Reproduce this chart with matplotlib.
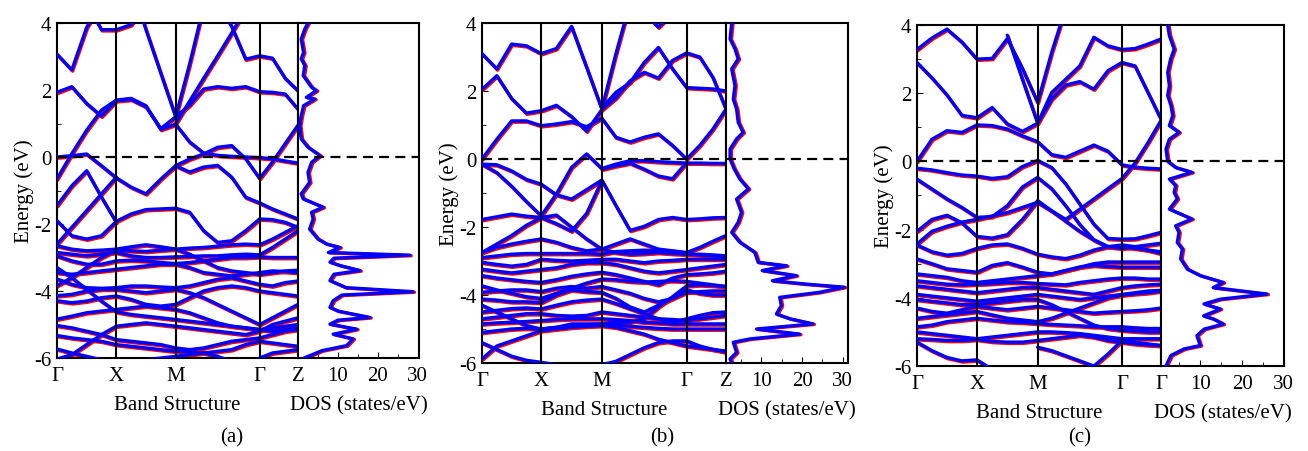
import matplotlib.pyplot as plt
import matplotlib.transforms as mtransforms
import numpy as np

nan = np.nan

# band energies (eV) read at 18 points along the k-path:
# 4 steps G-X, 4 steps X-M, 6 steps M-G, 3 steps G-Z
bands_a = [
    [3.07, 2.6, 3.87, 4.6, nan, nan, nan, nan, nan, nan, nan, nan, nan, nan, nan, nan, nan, nan],
    [nan, nan, 4.6, 3.8, 3.8, 3.95, 4.6, nan, nan, nan, nan, nan, nan, nan, nan, nan, nan, nan],
    [-0.65, 0.1, 0.8, 1.4, 1.7, 1.75, 1.53, 0.82, 0.98, 0.45, 0.12, 0.05, 0.02, 0.0, -0.02, -0.05, -0.12, -0.18],
    [1.93, 2.1, 1.6, 1.22, 1.68, 1.72, 1.5, 0.85, 1.2, 1.55, 2.03, 2.1, 2.05, 2.1, 1.95, 1.93, 1.88, 1.43],
    [nan, nan, nan, nan, nan, 5.2, 3.8, 2.5, 1.2, 2.78, 4.5, nan, nan, nan, nan, nan, nan, nan],
    [nan, nan, nan, nan, nan, nan, nan, nan, 1.0, 1.67, 2.35, 3.02, 3.7, 4.4, nan, nan, nan, nan],
    [nan, nan, nan, nan, nan, nan, nan, nan, nan, nan, nan, 4.6, 3.9, 2.92, 3.02, 2.95, 2.35, 1.98],
    [0.0, 0.04, 0.09, -0.26, -0.62, -0.9, -1.1, -0.66, -0.26, -0.06, 0.09, 0.29, 0.34, -0.05, -0.64, -0.15, 0.4, 0.95],
    [nan, nan, nan, nan, nan, nan, nan, nan, -0.26, -0.45, -0.3, -0.25, -0.6, -1.2, -1.37, -1.55, -1.7, -1.85],
    [-1.45, -0.86, -0.41, -1.2, -1.95, nan, nan, nan, nan, nan, nan, nan, nan, nan, nan, nan, nan, nan],
    [-1.9, -2.35, -2.45, -2.35, -1.92, -1.7, -1.57, -1.55, -1.53, -1.65, -2.2, -2.55, -2.5, -2.2, -1.85, -1.87, -1.95, -2.1],
    [-2.6, -2.1, -1.6, -1.1, -0.6, nan, nan, nan, nan, nan, nan, nan, nan, nan, nan, nan, nan, nan],
    [-2.65, -2.75, -2.8, -2.78, -2.75, -2.68, -2.62, -2.68, -2.75, -2.72, -2.7, -2.66, -2.62, -2.6, -2.62, -2.45, -2.25, -2.05],
    [-2.85, -2.9, -2.95, -2.9, -2.85, -2.95, -3.0, -3.0, -2.98, -2.97, -2.95, -2.95, -2.92, -2.9, -2.92, -2.7, -2.45, -2.2],
    [-2.95, -3.1, -3.2, -3.2, -3.1, -3.08, -3.1, -3.15, -3.18, -3.15, -3.1, -3.05, -3.0, -3.0, -2.98, -3.0, -3.0, -3.0],
    [-3.3, -3.6, -3.95, -4.3, -4.62, -4.7, -4.75, -4.8, -4.85, -4.9, -4.95, -5.0, -5.05, -5.1, -5.15, -5.2, -5.15, -5.1],
    [-3.84, -3.6, -3.3, -3.0, -2.78, -2.8, -2.82, -2.78, -2.75, -2.9, -3.1, -3.3, -3.4, -3.45, -3.5, -3.45, -3.4, -3.38],
    [-3.45, -3.5, -3.45, -3.4, -3.35, -3.3, -3.25, -3.2, -3.2, -3.3, -3.45, -3.5, -3.55, -3.5, -3.45, -3.4, -3.42, -3.45],
    [-3.64, -3.8, -3.9, -3.92, -3.9, -3.85, -3.85, -3.88, -3.9, -3.85, -3.75, -3.65, -3.6, -3.7, -3.8, -3.85, -3.75, -3.7],
    [-4.14, -4.1, -4.0, -3.95, -3.95, -4.0, -4.05, -4.0, -3.95, -4.05, -4.2, -4.4, -4.6, -4.8, -5.0, -4.8, -4.6, -4.4],
    [-4.29, -4.35, -4.3, -4.2, -4.15, -4.25, -4.4, -4.45, -4.4, -4.2, -4.0, -3.9, -3.85, -3.9, -4.0, -4.05, -4.1, -4.15],
    [-4.84, -4.75, -4.65, -4.6, -4.55, -4.5, -4.45, -4.5, -4.55, -4.65, -4.8, -4.95, -5.05, -5.1, -5.15, -5.1, -5.05, -5.0],
    [-5.03, -5.1, -5.2, -5.3, -5.45, -5.5, -5.55, -5.6, -5.7, -5.75, -5.7, -5.6, -5.5, -5.45, -5.4, -5.3, -5.2, -5.15],
    [-5.33, -5.4, -5.45, -5.5, -5.6, -5.65, -5.7, -5.75, -5.8, -5.82, -5.85, -5.8, -5.75, -5.6, -5.5, -5.55, -5.6, -5.65],
    [-5.73, -5.85, -5.95, -6.05, -6.1, -6.1, -6.05, -6.0, -5.95, -5.9, -5.85, -5.95, -6.1, -6.2, -6.0, -5.85, -5.8, -5.75],
    [-6.03, -5.9, -5.6, -5.3, -5.05, -5.0, -4.95, -5.0, -5.05, -5.1, -5.15, -5.2, -5.25, -5.3, -5.2, -5.0, -4.9, -4.8],
]

bands_b = [
    [3.1, 2.65, 3.38, 3.33, 3.1, 3.25, 3.9, 2.69, 1.47, 3.1, 4.6, nan, nan, nan, nan, nan, nan, nan],
    [2.05, 2.45, 1.78, 1.35, 1.42, 1.58, 1.25, 0.82, 1.45, 1.8, 2.3, 2.55, 2.38, 2.9, 3.12, 3.0, 2.4, 1.47],
    [0.0, 0.58, 1.12, 1.12, 0.98, 1.03, 1.1, 0.95, 1.2, 0.64, 0.5, 0.64, 0.74, 0.4, 0.0, 0.4, 0.88, 1.47],
    [nan, nan, nan, nan, nan, nan, nan, nan, 1.5, 1.96, 2.25, 2.84, 3.28, 2.65, 2.1, 2.08, 2.06, 2.0],
    [nan, nan, nan, nan, nan, nan, nan, nan, nan, nan, nan, 4.3, 3.88, 4.3, nan, nan, nan, nan],
    [-0.15, -0.17, -0.35, -0.6, -0.74, -1.05, -1.18, -0.9, -0.62, -1.37, -2.1, -1.98, -1.78, -1.72, -1.78, -1.76, -1.73, -1.72],
    [-0.15, -0.4, -0.8, -1.25, -1.67, -1.03, -0.25, 0.15, -0.28, -0.15, -0.05, -0.05, -0.08, -0.1, -0.12, -0.12, -0.13, -0.13],
    [nan, nan, nan, nan, nan, nan, nan, nan, -0.3, -0.2, -0.12, -0.3, -0.5, -0.58, -0.1, nan, nan, nan],
    [-1.78, -1.7, -1.62, -1.68, -1.72, -1.65, -2.0, -2.35, -2.65, -2.75, -2.8, -2.78, -2.75, -2.78, -2.8, -2.8, -2.82, -2.85],
    [-2.75, -2.5, -2.25, -1.95, -1.72, -1.9, -2.12, -1.6, -0.64, nan, nan, nan, nan, nan, nan, nan, nan, nan],
    [-2.75, -2.6, -2.5, -2.42, -2.35, -2.45, -2.6, -2.7, -2.65, -2.5, -2.35, -2.5, -2.65, -2.7, -2.75, -2.6, -2.42, -2.25],
    [-2.9, -2.85, -2.8, -2.78, -2.78, -2.78, -2.78, -2.78, -2.8, -2.72, -2.7, -2.68, -2.7, -2.72, -2.8, -2.82, -2.85, -2.88],
    [-3.04, -3.1, -3.15, -3.1, -2.95, -2.98, -3.0, -2.98, -2.95, -2.95, -3.0, -3.05, -3.0, -2.98, -2.95, -2.95, -2.95, -2.95],
    [-3.24, -3.3, -3.35, -3.3, -3.25, -3.2, -3.1, -3.05, -3.05, -3.1, -3.2, -3.3, -3.35, -3.3, -3.25, -3.2, -3.15, -3.1],
    [-3.43, -3.5, -3.55, -3.6, -3.63, -3.55, -3.45, -3.38, -3.33, -3.4, -3.5, -3.6, -3.7, -3.5, -3.4, -3.38, -3.35, -3.3],
    [-3.73, -3.85, -3.95, -4.05, -4.1, -3.95, -3.8, -3.65, -3.53, -3.55, -3.6, -3.62, -3.6, -3.58, -3.6, -3.65, -3.7, -3.75],
    [-3.92, -3.88, -3.85, -3.85, -3.9, -3.8, -3.75, -3.8, -3.75, -3.85, -3.95, -4.1, -4.2, -4.1, -3.92, -3.9, -3.88, -3.88],
    [-4.12, -4.15, -4.2, -4.2, -4.22, -4.0, -3.85, -3.9, -3.92, -4.1, -4.35, -4.5, -4.3, -4.1, -3.85, -3.95, -4.0, -4.0],
    [-4.5, -4.45, -4.4, -4.38, -4.41, -4.3, -4.2, -4.15, -4.12, -4.25, -4.4, -4.55, -4.7, -4.8, -4.7, -4.6, -4.52, -4.5],
    [-4.7, -4.65, -4.6, -4.55, -4.55, -4.6, -4.62, -4.6, -4.5, -4.55, -4.6, -4.65, -4.7, -4.72, -4.75, -4.7, -4.65, -4.6],
    [-4.85, -4.82, -4.8, -4.78, -4.75, -4.72, -4.7, -4.7, -4.7, -4.72, -4.75, -4.8, -4.82, -4.85, -4.85, -4.85, -4.85, -4.85],
    [-5.1, -5.05, -5.0, -4.98, -5.0, -4.95, -4.9, -4.88, -4.85, -4.88, -4.92, -4.95, -4.98, -5.0, -5.0, -5.0, -5.0, -5.0],
    [-5.4, -5.6, -5.8, -5.92, -5.98, -6.05, -6.1, -6.1, -6.05, -5.95, -5.75, -5.55, -5.4, -5.35, -5.35, -5.5, -5.6, -5.68],
    [-5.88, -5.5, -5.35, -5.2, -5.05, -5.0, -4.95, -4.92, -4.9, -4.95, -5.05, -5.15, -5.3, -5.4, -5.5, -5.55, -5.6, -5.65],
    [-4.3, -4.5, -4.7, -4.9, -5.0, -4.95, -4.85, -4.85, -4.85, -4.8, -4.8, -4.7, -4.35, -4.05, -3.73, -3.7, -3.72, -3.75],
]

bands_c = [
    [3.28, 3.62, 3.88, 3.5, 3.0, 3.02, 3.6, 2.72, 1.73, 3.2, 4.5, nan, nan, nan, nan, nan, nan, nan],
    [nan, nan, nan, nan, nan, nan, 3.7, 2.4, 1.12, 1.83, 2.24, 2.34, 2.12, 2.66, 2.9, 2.8, 2.02, 1.24],
    [2.9, 2.45, 1.95, 1.35, 1.28, 1.58, 1.1, 0.88, 1.12, 2.02, 2.41, 2.8, 3.64, 3.39, 3.28, 3.31, 3.44, 3.59],
    [0.0, 0.65, 0.9, 0.85, 1.07, 1.05, 0.95, 0.75, 0.58, 0.2, 0.12, 0.3, 0.48, 0.3, -0.1, -0.17, -0.2, -0.22],
    [-2.42, -2.05, -1.9, -1.78, -1.7, -1.6, -1.5, -1.35, -1.2, -1.45, -1.7, -1.4, -1.1, -0.8, -0.5, -0.05, 0.55, 1.2],
    [-0.2, -0.25, -0.33, -0.4, -0.43, -0.5, -0.45, -0.15, 0.03, -0.18, -0.66, -1.25, -1.84, -2.26, -2.28, -2.27, -2.18, -2.08],
    [-0.52, -0.81, -1.1, -1.35, -1.64, -1.62, -1.3, -0.75, -0.47, -0.8, -1.3, -1.85, -2.3, -2.5, -2.55, -2.5, -2.45, -2.4],
    [-2.05, -1.7, -1.58, -1.8, -2.2, -2.25, -2.15, -1.7, -1.15, -1.45, -1.75, -2.05, -2.3, -2.5, -2.5, -2.55, -2.6, -2.65],
    [-2.45, -2.65, -2.75, -2.7, -2.55, -2.45, -2.42, -2.55, -2.72, -2.8, -2.85, -2.75, -2.6, -2.5, -2.45, -2.5, -2.6, -2.7],
    [-2.86, -3.0, -3.15, -3.2, -3.25, -3.05, -2.97, -3.1, -3.25, -3.3, -3.2, -3.1, -3.0, -2.95, -2.95, -2.95, -2.95, -2.95],
    [-3.3, -3.35, -3.4, -3.5, -3.55, -3.5, -3.45, -3.4, -3.35, -3.3, -3.2, -3.1, -3.05, -3.08, -3.1, -3.1, -3.1, -3.1],
    [-3.5, -3.55, -3.6, -3.62, -3.6, -3.58, -3.55, -3.55, -3.58, -3.6, -3.62, -3.55, -3.5, -3.45, -3.42, -3.42, -3.45, -3.45],
    [-3.65, -3.7, -3.75, -3.8, -3.85, -3.8, -3.75, -3.7, -3.7, -3.75, -3.8, -3.85, -3.9, -3.8, -3.7, -3.65, -3.62, -3.6],
    [-3.9, -3.95, -4.0, -4.05, -4.1, -4.05, -4.0, -3.95, -3.9, -3.95, -4.0, -4.05, -4.0, -3.95, -3.9, -3.85, -3.8, -3.78],
    [-4.05, -4.1, -4.15, -4.2, -4.2, -4.15, -4.1, -4.05, -4.05, -4.2, -4.4, -4.6, -4.8, -4.9, -4.95, -4.98, -5.0, -5.0],
    [-4.3, -4.4, -4.45, -4.35, -4.25, -4.3, -4.35, -4.3, -4.25, -4.3, -4.35, -4.4, -4.45, -4.42, -4.4, -4.38, -4.35, -4.3],
    [-4.6, -4.55, -4.5, -4.45, -4.4, -4.5, -4.6, -4.65, -4.7, -4.6, -4.45, -4.3, -4.15, -4.0, -3.92, -3.88, -3.85, -3.8],
    [-4.85, -4.8, -4.7, -4.65, -4.6, -4.65, -4.7, -4.72, -4.75, -4.78, -4.8, -4.82, -4.85, -4.85, -4.85, -4.88, -4.9, -4.9],
    [-5.0, -5.05, -5.1, -5.15, -5.2, -5.15, -5.1, -5.05, -5.0, -5.0, -5.02, -5.05, -5.1, -5.15, -5.2, -5.2, -5.2, -5.2],
    [-5.2, -5.22, -5.25, -5.25, -5.22, -5.28, -5.3, -5.3, -5.25, -5.2, -5.15, -5.1, -5.15, -5.25, -5.3, -5.35, -5.38, -5.4],
    [-5.3, -5.55, -5.75, -5.85, -5.82, -6.1, nan, nan, nan, nan, nan, nan, nan, nan, nan, nan, nan, nan],
    [nan, nan, nan, nan, nan, nan, nan, nan, -5.45, -5.55, -5.7, -5.85, -6.0, -5.65, -5.25, -5.3, -5.35, -5.4],
]

# density of states: energy (eV) and states/eV
dos_e_a = [4.0, 3.82, 3.52, 3.12, 2.93, 2.73, 2.43, 2.08, 1.98, 1.78, 1.73, 1.53, 1.23, 0.94,
           0.54, 0.29, 0.04, -0.16, -0.46, -0.76, -1.1, -1.25, -1.5, -1.65, -1.85, -2.15,
           -2.45, -2.6, -2.7, -2.85, -2.93, -3.02, -3.14, -3.24, -3.39, -3.5, -3.69, -3.9,
           -4.02, -4.12, -4.29, -4.49, -4.6, -4.79, -4.87, -4.99, -5.14, -5.29, -5.43, -5.63,
           -5.78, -5.93, -6.0]
dos_a = [2.5, 1.7, 0.8, 1.4, 0.8, 1.7, 1.3, 3.4, 4.6, 2.1, 4.2, 1.4, 0.8, 0.4,
         0.8, 2.5, 5.5, 3.4, 2.5, 2.9, 0.8, 1.3, 6.3, 3.4, 3.8, 2.9,
         5.0, 7.2, 10.5, 7.6, 28.0, 9.0, 8.0, 10.5, 15.5, 9.0, 8.0, 12.0,
         28.8, 11.0, 8.8, 8.0, 10.0, 18.0, 10.0, 8.0, 14.7, 8.8, 13.8, 12.2,
         6.0, 3.0, 1.5]

dos_e_b = [4.0, 3.53, 3.24, 2.94, 2.65, 2.16, 1.76, 1.47, 1.08, 0.78, 0.59, 0.29, 0.0, -0.29,
           -0.59, -0.88, -1.18, -1.57, -1.86, -2.16, -2.45, -2.75, -3.04, -3.14, -3.28, -3.43,
           -3.58, -3.68, -3.77, -3.92, -4.07, -4.31, -4.56, -4.7, -4.85, -5.0, -5.15, -5.29,
           -5.39, -5.69, -5.88, -6.0]
dos_b = [2.7, 2.3, 3.5, 4.3, 2.7, 3.5, 3.1, 3.9, 4.3, 5.5, 3.9, 2.3, 2.3, 3.3,
         4.7, 6.8, 3.9, 5.1, 4.3, 2.7, 4.7, 8.4, 9.2, 16.2, 10.2, 18.6,
         12.7, 21.0, 30.4, 24.3, 14.5, 14.9, 13.7, 17.0, 22.7, 8.8, 19.4, 7.3,
         3.1, 3.9, 2.3, 2.7]

dos_e_c = [4.0, 3.69, 3.29, 3.0, 2.61, 2.22, 1.93, 1.63, 1.34, 1.05, 0.85, 0.65, 0.36, 0.0,
           -0.18, -0.32, -0.52, -0.71, -0.91, -1.1, -1.4, -1.69, -1.89, -2.08, -2.38, -2.57,
           -2.86, -3.16, -3.35, -3.55, -3.7, -3.89, -4.04, -4.18, -4.33, -4.53, -4.62, -4.77,
           -4.92, -5.11, -5.4, -5.5, -5.69, -5.89, -6.0]
dos_c = [2.2, 2.6, 3.75, 2.9, 2.2, 2.6, 2.2, 3.0, 3.4, 2.6, 4.9, 2.6, 1.8, 2.2,
         4.1, 8.0, 2.6, 4.1, 3.75, 4.5, 2.6, 8.0, 4.1, 4.9, 4.5, 5.7,
         5.3, 6.9, 10.0, 15.5, 13.1, 26.0, 14.8, 10.9, 14.8, 10.8, 13.1, 15.5,
         10.9, 9.2, 10.0, 6.1, 3.0, 2.2, 1.8]

labels_ab = ['Γ', 'X', 'M', 'Γ', 'Z']
labels_c = ['Γ', 'X', 'M', 'Γ', 'Γ']

plt.rcParams['font.family'] = ['Liberation Serif', 'DejaVu Serif']
plt.rcParams['axes.unicode_minus'] = False
plt.rcParams['lines.solid_joinstyle'] = 'round'
plt.rcParams['lines.solid_capstyle'] = 'round'

FS = 15


def kpoints(nodes):
    steps = [4, 4, 6, 3]
    k = [nodes[0]]
    for i, n in enumerate(steps):
        k += list(np.linspace(nodes[i], nodes[i + 1], n + 1)[1:])
    return np.array(k)


def draw_panel(fig, band_rect, dos_rect, nodes, labels, bands, dos_e, dos, dos_lim, tag, tag_x):
    ax = fig.add_axes(band_rect)
    ax2 = fig.add_axes(dos_rect)
    k = kpoints(nodes)

    red_off = mtransforms.offset_copy(ax.transData, fig=fig, x=0.6, y=-0.9, units='points')
    for b in bands:
        ax.plot(k, b, color='red', lw=2.4, transform=red_off, zorder=2)
    for b in bands:
        ax.plot(k, b, color='blue', lw=2.4, zorder=3)
    for n in nodes[1:-1]:
        ax.axvline(n, color='black', lw=1.5, zorder=4)
    ax.axhline(0, color='black', ls=(0, (4.5, 2.8)), lw=1.6, zorder=5)

    ax.set_xlim(nodes[0], nodes[-1])
    ax.set_ylim(-6, 4)
    ax.set_xticks(nodes)
    ax.set_xticklabels(labels)
    ax.set_yticks([-6, -4, -2, 0, 2, 4])
    ax.set_yticks([-5, -3, -1, 1, 3], minor=True)
    ax.tick_params(axis='x', length=0, pad=6, labelsize=FS)
    ax.tick_params(axis='y', which='both', direction='in', labelsize=FS, pad=4)
    ax.tick_params(axis='y', which='major', length=4)
    ax.tick_params(axis='y', which='minor', length=3)
    ax.set_xlabel('Band Structure', fontsize=FS, labelpad=7)
    ax.set_ylabel('Energy (eV)', fontsize=FS, labelpad=0)

    red_dos = mtransforms.offset_copy(ax2.transData, fig=fig, x=1.0, y=-0.4, units='points')
    ax2.plot(dos, dos_e, color='red', lw=2.4, transform=red_dos, zorder=2)
    ax2.plot(dos, dos_e, color='blue', lw=2.4, zorder=3)
    ax2.axhline(0, color='black', ls=(0, (4.5, 2.8)), lw=1.6, zorder=5)
    ax2.set_xlim(*dos_lim)
    ax2.set_ylim(-6, 4)
    ax2.set_xticks([10, 20, 30])
    ax2.set_xticks([5, 15, 25], minor=True)
    ax2.tick_params(axis='x', which='both', direction='in', labelsize=FS, pad=6)
    ax2.tick_params(axis='x', which='major', length=4)
    ax2.tick_params(axis='x', which='minor', length=3)
    ax2.tick_params(axis='y', left=False, labelleft=False)
    ax2.set_xlabel('DOS (states/eV)', fontsize=FS, labelpad=7)

    for a in (ax, ax2):
        for s in a.spines.values():
            s.set_linewidth(1.5)

    fig.text(tag_x / 1308, 1 - 438 / 452, tag, fontsize=FS, ha='center', va='center')


def main():
    fig = plt.figure(figsize=(13.08, 4.52), dpi=100)

    draw_panel(fig, [57 / 1308, 1 - 359 / 452, 241 / 1308, 335 / 452],
               [298 / 1308, 1 - 359 / 452, 121 / 1308, 335 / 452],
               [0, 1, 2, 3.416, 4.062], labels_ab, bands_a, dos_e_a, dos_a, (0, 30.3), '(a)', 232)
    draw_panel(fig, [482 / 1308, 1 - 364 / 452, 244 / 1308, 340 / 452],
               [726 / 1308, 1 - 364 / 452, 122 / 1308, 340 / 452],
               [0, 1, 2.022, 3.455, 4.118], labels_ab, bands_b, dos_e_b, dos_b, (1.3, 31.3), '(b)', 662)
    draw_panel(fig, [917 / 1308, 1 - 367 / 452, 244 / 1308, 341 / 452],
               [1161 / 1308, 1 - 367 / 452, 123 / 1308, 341 / 452],
               [0, 1, 2.011, 3.417, 4.067], labels_c, bands_c, dos_e_c, dos_c, (0.6, 30.05), '(c)', 1080)

    fig.savefig('out.png', dpi=100)


if __name__ == "__main__":
    main()
